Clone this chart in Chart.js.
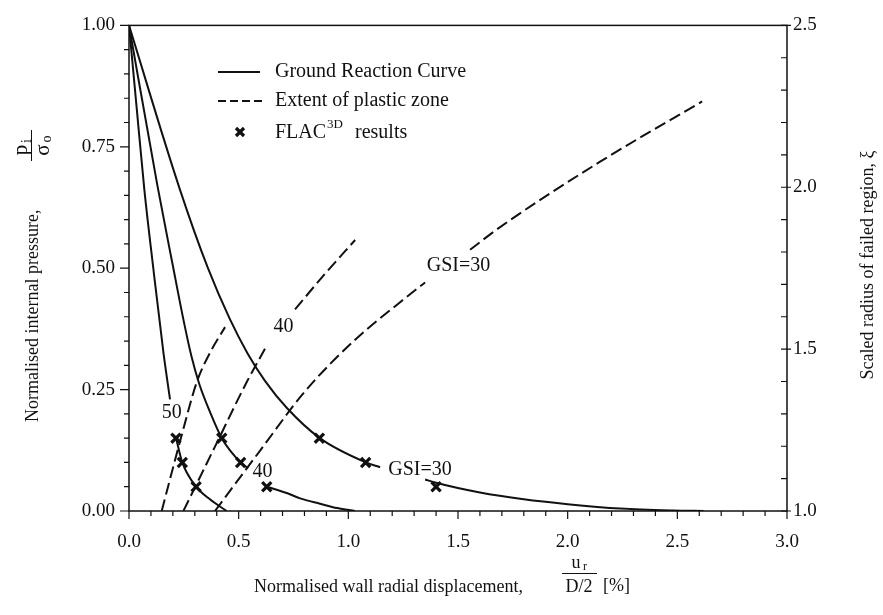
<!DOCTYPE html>
<html>
<head>
<meta charset="utf-8">
<script src="https://cdn.jsdelivr.net/npm/chart.js@4.4.1/dist/chart.umd.min.js"></script>
<style>
html,body{margin:0;padding:0;background:#fff;}
#wrap{width:883px;height:615px;}
</style>
</head>
<body>
<div id="wrap"><canvas id="c" width="883" height="615"></canvas></div>
<script>
// ---------- tick values ----------
const xTickValues  = [0, 0.5, 1.0, 1.5, 2.0, 2.5, 3.0];
const yTickValues  = [0, 0.25, 0.5, 0.75, 1.0];
const xiTickValues = [1.0, 1.5, 2.0, 2.5];

// ---------- Ground reaction curves: p_i/sigma_o vs u_r/(D/2) [%] (null = gap for a label) ----------
const grc50X = [0, 0.035, 0.07, 0.111, 0.157, 0.187, 0.20, 0.214, 0.243, 0.306, 0.369, 0.445];
const grc50Y = [1, 0.83, 0.662, 0.499, 0.326, 0.23, null, 0.151, 0.10, 0.05, 0.024, 0];

const grc40X = [0, 0.13, 0.20, 0.25, 0.285, 0.32, 0.37, 0.423, 0.509, 0.543, 0.585, 0.628, 0.719, 0.78, 0.871, 0.95, 1.03];
const grc40Y = [1, 0.669, 0.505, 0.39, 0.318, 0.262, 0.203, 0.15, 0.10, 0.088, null, 0.05, 0.037, 0.026, 0.015, 0.006, 0];

const grc30X = [0, 0.23, 0.36, 0.46, 0.54, 0.62, 0.72, 0.87, 1.08, 1.145, 1.25, 1.35, 1.40, 1.60, 1.80, 2.0, 2.24, 2.48, 2.62];
const grc30Y = [1, 0.665, 0.50, 0.395, 0.325, 0.268, 0.212, 0.15, 0.10, 0.09, null, 0.065, 0.058, 0.038, 0.024, 0.014, 0.005, 0.001, 0];

// ---------- Extent of plastic zone: scaled radius xi vs u_r/(D/2) [%] ----------
const pz50X  = [0.149, 0.237, 0.310, 0.374, 0.438];
const pz50Xi = [1.0, 1.226, 1.40, 1.495, 1.568];

const pz40X  = [0.248, 0.392, 0.538, 0.620, 0.689, 0.757, 0.894, 1.031];
const pz40Xi = [1.0, 1.199, 1.400, 1.501, null, 1.623, 1.733, 1.837];

const pz30X  = [0.392, 0.597, 0.803, 1.031, 1.236, 1.350, 1.45, 1.555, 1.692, 2.148, 2.613];
const pz30Xi = [1.0, 1.186, 1.370, 1.529, 1.645, 1.706, null, 1.807, 1.877, 2.079, 2.265];

// ---------- FLAC3D results ----------
const flacX = [0.214, 0.243, 0.306, 0.423, 0.509, 0.628, 0.868, 1.079, 1.40];
const flacY = [0.15, 0.10, 0.05, 0.15, 0.10, 0.05, 0.15, 0.10, 0.05];

// ---------- curve labels (data coordinates, left axis) ----------
const curveLabels = [
  {text: '50',     x: 0.195, y: 0.202},
  {text: '40',     x: 0.609, y: 0.080},
  {text: 'GSI=30', x: 1.327, y: 0.0855},
  {text: '40',     x: 0.704, y: 0.379},
  {text: 'GSI=30', x: 1.502, y: 0.506}
];

const SERIF = "'Liberation Serif','Times New Roman',serif";
const INK = '#111';

function pts(xs, ys) { return xs.map((v, i) => ({x: v, y: ys[i]})); }

function lineDs(xs, ys, axis, dashed) {
  return {
    data: pts(xs, ys), showLine: true, yAxisID: axis,
    borderColor: INK, borderWidth: 2, pointRadius: 0, pointHoverRadius: 0,
    borderDash: dashed ? [12, 5] : [], cubicInterpolationMode: 'monotone',
    spanGaps: false, fill: false
  };
}

const decor = {
  id: 'decor',
  afterDraw(chart) {
    const {ctx, chartArea: a} = chart;
    const sx = chart.scales.x, sy = chart.scales.y, s2 = chart.scales.y2;
    ctx.save();
    ctx.strokeStyle = INK;
    ctx.fillStyle = INK;
    // frame
    ctx.lineWidth = 1.5;
    ctx.strokeRect(a.left, a.top, a.right - a.left, a.bottom - a.top);
    // ticks
    ctx.lineWidth = 1.2;
    ctx.beginPath();
    for (let i = 0; i <= 20; i++) {
      const py = sy.getPixelForValue(i * 0.05);
      const len = (i % 5 === 0) ? 9 : 5;
      ctx.moveTo(a.left, py); ctx.lineTo(a.left - len, py);
    }
    for (let i = 0; i <= 30; i++) {
      const px = sx.getPixelForValue(i * 0.1);
      const len = (i % 5 === 0) ? 8 : 5;
      ctx.moveTo(px, a.bottom); ctx.lineTo(px, a.bottom + len);
    }
    for (let i = 0; i <= 15; i++) {
      const py = s2.getPixelForValue(1 + i * 0.1);
      ctx.moveTo(a.right - 6, py); ctx.lineTo(a.right + ((i % 5 === 0) ? 4 : 0), py);
    }
    ctx.stroke();

    // curve labels
    ctx.font = '20px ' + SERIF;
    ctx.textAlign = 'center';
    ctx.textBaseline = 'middle';
    curveLabels.forEach(l => {
      ctx.fillText(l.text, sx.getPixelForValue(l.x), sy.getPixelForValue(l.y));
    });

    // legend
    ctx.lineWidth = 2;
    ctx.beginPath(); ctx.moveTo(218, 72); ctx.lineTo(260, 72); ctx.stroke();
    ctx.setLineDash([8, 4]);
    ctx.beginPath(); ctx.moveTo(218, 101); ctx.lineTo(262, 101); ctx.stroke();
    ctx.setLineDash([]);
    ctx.lineWidth = 3.2;
    ctx.beginPath();
    ctx.moveTo(236, 128); ctx.lineTo(244, 136);
    ctx.moveTo(244, 128); ctx.lineTo(236, 136);
    ctx.stroke();
    ctx.textAlign = 'left';
    ctx.font = '20px ' + SERIF;
    ctx.fillText('Ground Reaction Curve', 275, 72);
    ctx.fillText('Extent of plastic zone', 275, 101);
    ctx.fillText('FLAC', 275, 133);
    let w = ctx.measureText('FLAC').width;
    ctx.font = '13px ' + SERIF;
    ctx.fillText('3D', 275 + w + 1, 125);
    const w2 = ctx.measureText('3D').width;
    ctx.font = '20px ' + SERIF;
    ctx.fillText('results', 275 + w + w2 + 13, 133);

    // bottom axis title
    ctx.font = '18px ' + SERIF;
    ctx.textAlign = 'left';
    ctx.fillText('Normalised wall radial displacement,', 254, 587);
    ctx.font = '18px ' + SERIF;
    ctx.textAlign = 'center';
    ctx.fillText('u', 576, 563);
    ctx.font = '12px ' + SERIF;
    ctx.fillText('r', 585, 567);
    ctx.font = '18px ' + SERIF;
    ctx.fillText('D/2', 579, 587);
    ctx.lineWidth = 1;
    ctx.beginPath(); ctx.moveTo(562, 573.5); ctx.lineTo(597, 573.5); ctx.stroke();
    ctx.font = '18px ' + SERIF;
    ctx.textAlign = 'left';
    ctx.fillText('[%]', 603, 586);

    // left axis title (rotated)
    ctx.save();
    ctx.translate(33, 0);
    ctx.rotate(-Math.PI / 2);
    ctx.font = '18px ' + SERIF;
    ctx.textAlign = 'left';
    ctx.fillText('Normalised internal pressure,', -422, 0);
    ctx.textAlign = 'center';
    ctx.font = '21px ' + SERIF;
    ctx.fillText('p', -150, -12);
    ctx.font = '14px ' + SERIF;
    ctx.fillText('i', -141, -6);
    ctx.font = '21px ' + SERIF;
    ctx.fillText('σ', -150, 10);
    ctx.font = '14px ' + SERIF;
    ctx.fillText('o', -139, 14);
    ctx.lineWidth = 1;
    ctx.beginPath(); ctx.moveTo(-161, -1.5); ctx.lineTo(-130, -1.5); ctx.stroke();
    ctx.restore();

    // right axis title (rotated)
    ctx.save();
    ctx.translate(868, 265);
    ctx.rotate(-Math.PI / 2);
    ctx.font = '18px ' + SERIF;
    ctx.textAlign = 'center';
    ctx.fillText('Scaled radius of failed region, ξ', 0, 0);
    ctx.restore();

    ctx.restore();
  }
};

new Chart(document.getElementById('c'), {
  type: 'scatter',
  data: {
    datasets: [
      lineDs(grc50X, grc50Y, 'y', false),
      lineDs(grc40X, grc40Y, 'y', false),
      lineDs(grc30X, grc30Y, 'y', false),
      lineDs(pz50X, pz50Xi, 'y2', true),
      lineDs(pz40X, pz40Xi, 'y2', true),
      lineDs(pz30X, pz30Xi, 'y2', true),
      {
        data: pts(flacX, flacY), yAxisID: 'y', showLine: false,
        pointStyle: 'crossRot', pointRadius: 6.5, pointBorderWidth: 3.2,
        borderColor: INK, backgroundColor: INK, pointHoverRadius: 6.5
      }
    ]
  },
  options: {
    responsive: false,
    devicePixelRatio: 1,
    animation: false,
    events: [],
    layout: {padding: {top: 20, left: 0, right: 0, bottom: 0}},
    plugins: {legend: {display: false}, tooltip: {enabled: false}},
    scales: {
      x: {
        type: 'linear', min: 0, max: 3, position: 'bottom',
        afterBuildTicks: s => { s.ticks = xTickValues.map(v => ({value: v})); },
        afterFit: s => { s.height = 104; },
        grid: {display: false, drawTicks: false, tickLength: 0},
        border: {display: false},
        ticks: {font: {family: SERIF, size: 19}, color: INK, padding: 20, maxRotation: 0,
                callback: v => Number(v).toFixed(1)}
      },
      y: {
        type: 'linear', min: 0, max: 1, position: 'left',
        afterBuildTicks: s => { s.ticks = yTickValues.map(v => ({value: v})); },
        afterFit: s => { s.width = 129; },
        grid: {display: false, drawTicks: false, tickLength: 0},
        border: {display: false},
        ticks: {font: {family: SERIF, size: 19}, color: INK, padding: 14,
                callback: v => Number(v).toFixed(2)}
      },
      y2: {
        type: 'linear', min: 1, max: 2.5, position: 'right',
        afterBuildTicks: s => { s.ticks = xiTickValues.map(v => ({value: v})); },
        afterFit: s => { s.width = 96; },
        grid: {display: false, drawTicks: false, tickLength: 0},
        border: {display: false},
        ticks: {font: {family: SERIF, size: 19}, color: INK, padding: 6,
                callback: v => Number(v).toFixed(1)}
      }
    }
  },
  plugins: [decor]
});
</script>
</body>
</html>
